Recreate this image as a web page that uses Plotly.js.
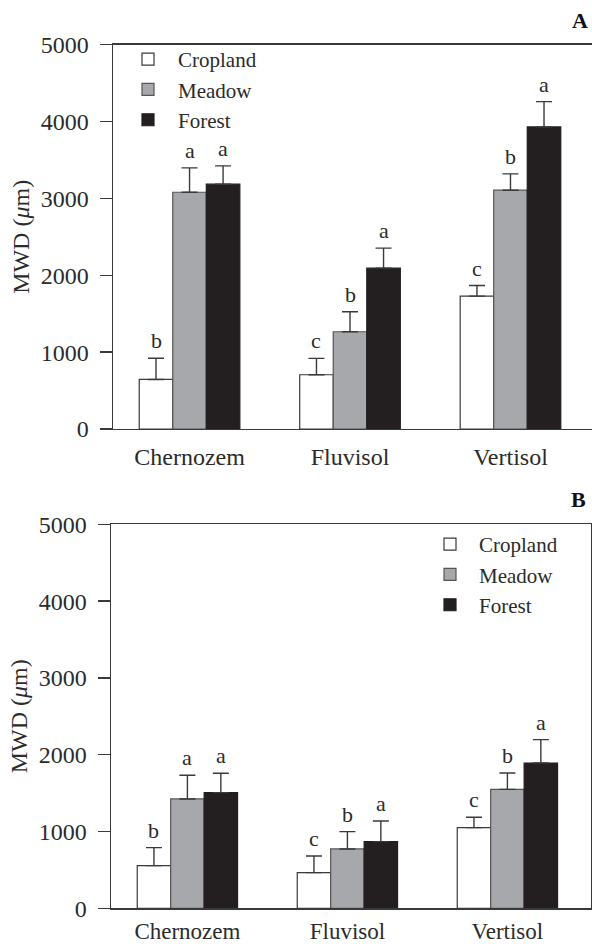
<!DOCTYPE html>
<html>
<head>
<meta charset="utf-8">
<script src="https://cdn.plot.ly/plotly-3.0.1.min.js"></script>
<style>html,body{margin:0;padding:0;background:#fff;}#chart{width:592px;height:947px;}</style>
</head>
<body>
<div id="chart"></div>
<script>
// ---- data ----
const soils = ["Chernozem", "Fluvisol", "Vertisol"];
const seriesNames = ["Cropland", "Meadow", "Forest"];

// Panel A
const croplandA = [645, 706, 1729];
const croplandAErr = [275, 213, 138];
const meadowA = [3080, 1265, 3107];
const meadowAErr = [317, 260, 212];
const forestA = [3185, 2093, 3930];
const forestAErr = [238, 260, 330];
const lettersCroplandA = ["b", "c", "c"];
const lettersMeadowA = ["a", "b", "b"];
const lettersForestA = ["a", "a", "a"];

// Panel B
const croplandB = [556, 464, 1050];
const croplandBErr = [234, 217, 135];
const meadowB = [1424, 773, 1549];
const meadowBErr = [308, 225, 213];
const forestB = [1506, 868, 1892];
const forestBErr = [252, 269, 304];
const lettersCroplandB = ["b", "c", "c"];
const lettersMeadowB = ["a", "b", "b"];
const lettersForestB = ["a", "a", "a"];

const yTicks = [0, 1000, 2000, 3000, 4000, 5000];

// ---- styles ----
const FONT = "'Liberation Serif', 'Times New Roman', serif";
const TXT = "#2b2b2b";
const LINE = "#3a3a3a";
const fills = ["#ffffff", "#a7a8ab", "#231f20"];
const outlines = ["#3a3a3a", "#555555", "#231f20"];
const BARGAP = 0.373;
const barW = (1 - BARGAP) / 3;

function makeBar(name, vals, errs, idx, xa, ya, legendId, showLeg) {
  return {
    type: "bar", name: name, x: soils, y: vals,
    xaxis: xa, yaxis: ya, legend: legendId, showlegend: showLeg,
    marker: {color: fills[idx], line: {color: outlines[idx], width: 1.2}},
    error_y: {type: "data", symmetric: false, array: errs,
      arrayminus: errs.map(() => 0), color: LINE, thickness: 1.4, width: 8},
    hoverinfo: "skip"
  };
}

const traces = [
  makeBar(seriesNames[0], croplandA, croplandAErr, 0, "x", "y", "legend", true),
  makeBar(seriesNames[1], meadowA, meadowAErr, 1, "x", "y", "legend", true),
  makeBar(seriesNames[2], forestA, forestAErr, 2, "x", "y", "legend", true),
  makeBar(seriesNames[0], croplandB, croplandBErr, 0, "x2", "y2", "legend2", true),
  makeBar(seriesNames[1], meadowB, meadowBErr, 1, "x2", "y2", "legend2", true),
  makeBar(seriesNames[2], forestB, forestBErr, 2, "x2", "y2", "legend2", true)
];

const annotations = [];
function addLetters(letters, vals, errs, idx, xref, yref) {
  const off = (idx - 1) * barW;
  letters.forEach((t, i) => {
    annotations.push({
      x: i + off, y: vals[i] + errs[i], xref: xref, yref: yref,
      text: t, showarrow: false, yanchor: "bottom", xanchor: "center",
      yshift: 3, font: {family: FONT, size: 22, color: TXT}
    });
  });
}
addLetters(lettersCroplandA, croplandA, croplandAErr, 0, "x", "y");
addLetters(lettersMeadowA, meadowA, meadowAErr, 1, "x", "y");
addLetters(lettersForestA, forestA, forestAErr, 2, "x", "y");
addLetters(lettersCroplandB, croplandB, croplandBErr, 0, "x2", "y2");
addLetters(lettersMeadowB, meadowB, meadowBErr, 1, "x2", "y2");
addLetters(lettersForestB, forestB, forestBErr, 2, "x2", "y2");

annotations.push({xref: "paper", yref: "paper", x: 0.997, y: 1 - 20/947, text: "<b>A</b>",
  showarrow: false, xanchor: "right", yanchor: "middle", font: {family: FONT, size: 22, color: "#111"}});
annotations.push({xref: "paper", yref: "paper", x: 0.993, y: 1 - 500/947, text: "<b>B</b>",
  showarrow: false, xanchor: "right", yanchor: "middle", font: {family: FONT, size: 22, color: "#111"}});

function yAxis(domain, anchor, mirror) {
  return {
    domain: domain, anchor: anchor, range: [0, 5000], tickvals: yTicks,
    ticktext: yTicks.map(String), showgrid: false, zeroline: false,
    showline: true, linecolor: LINE, linewidth: 1.4, mirror: mirror,
    ticks: "outside", ticklen: 12, tickwidth: 1.4, tickcolor: LINE,
    ticklabelstandoff: 6,
    tickfont: {family: FONT, size: 24, color: TXT},
    title: {text: "MWD (<i>μ</i>m)", standoff: 4, font: {family: FONT, size: 24, color: TXT}},
    automargin: false, fixedrange: true
  };
}
function xAxis(domain, anchor, range, standoff, fsize) {
  return {
    domain: domain, anchor: anchor, type: "category", range: range,
    showgrid: false, zeroline: false, showline: true, linecolor: LINE,
    linewidth: 1.4, mirror: true, ticks: "",
    ticklabelstandoff: standoff,
    tickfont: {family: FONT, size: fsize, color: TXT},
    automargin: false, fixedrange: true
  };
}

const layout = {
  width: 592, height: 947,
  margin: {l: 0, r: 0, t: 0, b: 0},
  paper_bgcolor: "#fff", plot_bgcolor: "#fff",
  barmode: "group", bargap: BARGAP, bargroupgap: 0,
  xaxis: xAxis([113/592, 1], "y", [-0.477, 2.508], 6, 24),
  yaxis: yAxis([1 - 429/947, 1 - 44.7/947], "x", false),
  xaxis2: xAxis([111/592, 591/592], "y2", [-0.4775, 2.5225], 2, 23),
  yaxis2: yAxis([1 - 908.3/947, 1 - 524.3/947], "x2", true),
  legend: {x: 118/592, y: 1 - 39/947, xanchor: "left", yanchor: "top", itemwidth: 50,
    bgcolor: "rgba(0,0,0,0)", font: {family: FONT, size: 21, color: TXT}, tracegroupgap: 0},
  legend2: {x: 421/592, y: 1 - 524/947, xanchor: "left", yanchor: "top", itemwidth: 48,
    bgcolor: "rgba(0,0,0,0)", font: {family: FONT, size: 21, color: TXT}, tracegroupgap: 0},
  annotations: annotations,
  showlegend: true
};

Plotly.newPlot("chart", traces, layout, {displayModeBar: false, staticPlot: true});
</script>
</body>
</html>
